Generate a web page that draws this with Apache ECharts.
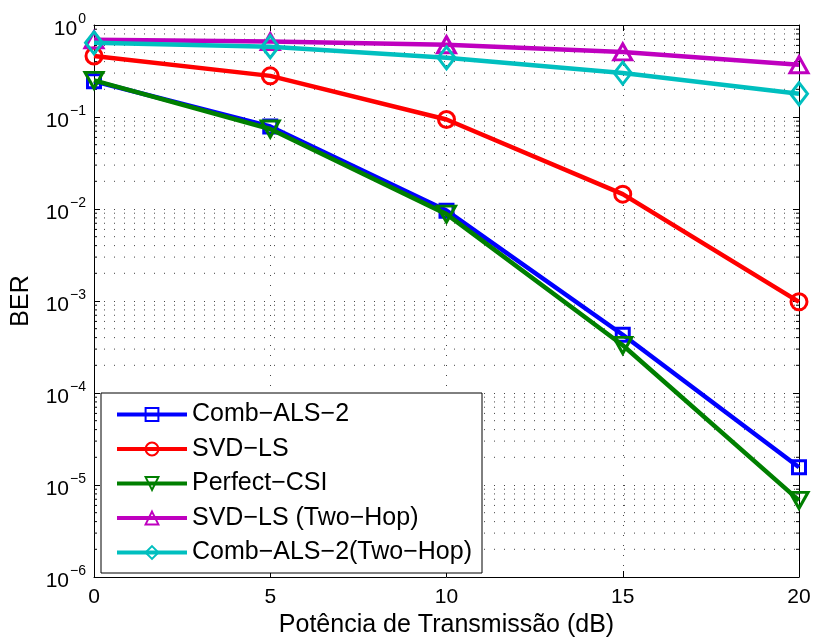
<!DOCTYPE html>
<html>
<head>
<meta charset="utf-8">
<script src="https://cdn.jsdelivr.net/npm/echarts@6/dist/echarts.min.js"></script>
<style>html,body{margin:0;padding:0;background:#fff}#c{width:814px;height:643px}</style>
</head>
<body>
<div id="c"></div>
<script>
var xValues = [0, 5, 10, 15, 20];
var combALS2 = [0.245, 0.079, 0.0096, 4.3e-4, 1.56e-5];
var svdLS = [0.46, 0.28, 0.094, 0.0145, 9.8e-4];
var perfectCSI = [0.25, 0.074, 0.0088, 3.3e-4, 6.8e-6];
var svdLS2Hop = [0.69, 0.66, 0.61, 0.51, 0.37];
var combALS22Hop = [0.64, 0.58, 0.44, 0.30, 0.179];
var seriesNames = ['Comb\u2212ALS\u22122', 'SVD\u2212LS', 'Perfect\u2212CSI', 'SVD\u2212LS (Two\u2212Hop)', 'Comb\u2212ALS\u22122(Two\u2212Hop)'];
var xTickLabels = ['0', '5', '10', '15', '20'];
var yDecadeExps = [-6, -5, -4, -3, -2, -1, 0];
var minorMultipliers = [2, 3, 4, 5, 6, 7, 8, 9];

var FONT = "'Liberation Sans', Arial, Helvetica, sans-serif";
var minorVals = [];
yDecadeExps.slice(0, -1).forEach(function (e) {
  minorMultipliers.forEach(function (m) { minorVals.push([0, m * Math.pow(10, e)]); });
});

function pair(arr) { return xValues.map(function (x, i) { return [x, arr[i]]; }); }

var colors = ['#0000ff', '#ff0000', '#007f00', '#bf00bf', '#00bfbf'];
var symbols = ['rect', 'circle', 'triangle', 'triangle', 'diamond'];
var rotates = [0, 0, 180, 0, 0];
var sizes = [13, 16, [18, 16], [18, 16], [17, 22]];
var dataSets = [combALS2, svdLS, perfectCSI, svdLS2Hop, combALS22Hop];

var lineSeries = dataSets.map(function (d, i) {
  return {
    name: seriesNames[i], type: 'line', data: pair(d),
    symbol: symbols[i], symbolSize: sizes[i], symbolRotate: rotates[i],
    showAllSymbol: true, z: 3 + i,
    lineStyle: { color: colors[i], width: 4.5 },
    itemStyle: { color: 'rgba(255,255,255,0)', borderColor: colors[i], borderWidth: 3 },
    emphasis: { disabled: true }, animation: false
  };
});

var minorSeries = {
  type: 'custom', silent: true, animation: false, z: 1,
  data: minorVals,
  renderItem: function (params, api) {
    var v = api.value(1);
    var p1 = api.coord([0, v]);
    var p2 = api.coord([20, v]);
    return {
      type: 'group', children: [
        { type: 'line', shape: { x1: p1[0], y1: p1[1], x2: p2[0], y2: p2[1] },
          style: { stroke: '#444', lineWidth: 1, lineDash: [1, 9] } },
        { type: 'line', shape: { x1: p1[0], y1: p1[1], x2: p1[0] + 3, y2: p1[1] },
          style: { stroke: '#000', lineWidth: 1 } },
        { type: 'line', shape: { x1: p2[0] - 3, y1: p2[1], x2: p2[0], y2: p2[1] },
          style: { stroke: '#000', lineWidth: 1 } }
      ]
    };
  }
};

function yLabel(v) {
  var e = Math.round(Math.log(v) / Math.LN10);
  var s = e < 0 ? '\u2212' + (-e) : '' + e;
  return '{b|10}{s|' + s + '}';
}

var chart = echarts.init(document.getElementById('c'));
chart.setOption({
  backgroundColor: '#fff',
  animation: false,
  textStyle: { fontFamily: FONT },
  grid: { left: 94, top: 25, right: 15, bottom: 62 },
  legend: {
    data: seriesNames, orient: 'vertical', left: 101, top: 393,
    itemWidth: 70, itemHeight: 16, itemGap: 9.5,
    padding: [9, 10, 8, 14],
    lineStyle: { width: 4 },
    backgroundColor: '#fff', borderColor: '#000', borderWidth: 1, borderRadius: 0,
    textStyle: { fontSize: 25, color: '#000', fontFamily: FONT, lineHeight: 25 },
    selectedMode: false, z: 10
  },
  xAxis: [{
    type: 'value', min: 0, max: 20, interval: 5,
    name: 'Pot\u00eancia de Transmiss\u00e3o (dB)', nameLocation: 'middle', nameGap: 36,
    nameTextStyle: { fontSize: 25, color: '#000', fontFamily: FONT },
    axisLine: { onZero: false, lineStyle: { color: '#000', width: 1 } },
    axisTick: { inside: true, length: 6, lineStyle: { color: '#000' } },
    axisLabel: { fontSize: 21, color: '#000', margin: 10, fontFamily: FONT,
      formatter: function (v) { return xTickLabels[xValues.indexOf(v)]; } },
    splitLine: { show: true, lineStyle: { color: '#444', type: [1, 9], width: 1 } }
  }, {
    type: 'value', min: 0, max: 20, interval: 5, position: 'top',
    axisLine: { onZero: false, lineStyle: { color: '#000', width: 1 } },
    axisTick: { inside: true, length: 6, lineStyle: { color: '#000' } },
    axisLabel: { show: false }, splitLine: { show: false }
  }],
  yAxis: [{
    type: 'log', logBase: 10, min: 1e-6, max: 1,
    name: 'BER', nameLocation: 'middle', nameGap: 60,
    nameTextStyle: { fontSize: 25, color: '#000', fontFamily: FONT },
    axisLine: { onZero: false, lineStyle: { color: '#000', width: 1 } },
    axisTick: { inside: true, length: 6, lineStyle: { color: '#000' } },
    minorTick: { show: false }, minorSplitLine: { show: false },
    axisLabel: {
      margin: 8, formatter: yLabel,
      rich: {
        b: { fontSize: 21, color: '#000', fontFamily: FONT, padding: [9, 0, 0, 0] },
        s: { fontSize: 14, color: '#000', fontFamily: FONT, padding: [0, 0, 12, 1] }
      }
    },
    splitLine: { show: true, lineStyle: { color: '#444', type: [1, 9], width: 1 } }
  }, {
    type: 'log', logBase: 10, min: 1e-6, max: 1, position: 'right',
    axisLine: { onZero: false, lineStyle: { color: '#000', width: 1 } },
    axisTick: { inside: true, length: 6, lineStyle: { color: '#000' } },
    axisLabel: { show: false }, splitLine: { show: false }
  }],
  series: [minorSeries].concat(lineSeries)
});
</script>
</body>
</html>
